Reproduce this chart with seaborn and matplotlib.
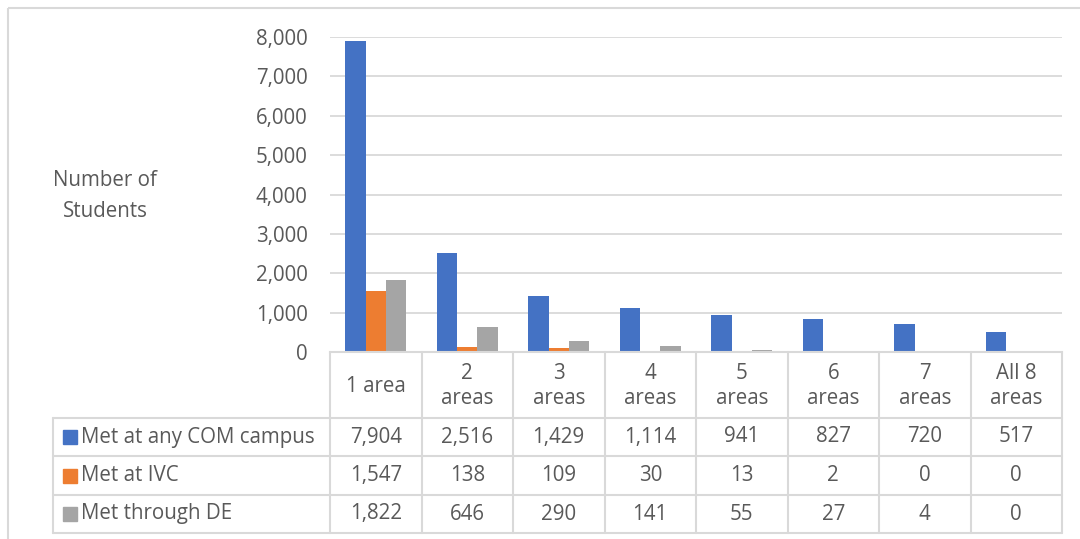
import numpy as np
import pandas as pd
import matplotlib
matplotlib.use("Agg")
import matplotlib.pyplot as plt
import matplotlib.ticker as mticker
from matplotlib.patches import Rectangle
import seaborn as sns

# ------------- data --------------
categories = ["1 area", "2\nareas", "3\nareas", "4\nareas", "5\nareas",
              "6\nareas", "7\nareas", "All 8\nareas"]
series = ["Met at any COM campus", "Met at IVC", "Met through DE"]
any_com = [7904, 2516, 1429, 1114, 941, 827, 720, 517]
at_ivc = [1547, 138, 109, 30, 13, 2, 0, 0]
through_de = [1822, 646, 290, 141, 55, 27, 4, 0]
colors = ["#4472C4", "#ED7D31", "#A5A5A5"]
yticks = [0, 1000, 2000, 3000, 4000, 5000, 6000, 7000, 8000]

df = pd.DataFrame({
    "area": categories * 3,
    "series": [s for s in series for _ in categories],
    "students": any_com + at_ivc + through_de,
})

# ------------- style --------------
sns.set_theme(style="white")
plt.rcParams["font.family"] = ["Open Sans", "DejaVu Sans"]
TXT = "#595959"
GRID = "#D9D9D9"
FS = 14.8

W, H = 1080, 539
fig = plt.figure(figsize=(W / 100, H / 100), dpi=100)

# overlay axes in pixel coords for frame and data table
bg = fig.add_axes([0, 0, 1, 1])
bg.set_xlim(0, W)
bg.set_ylim(H, 0)
bg.axis("off")

# plot area in pixels
x0, x1 = 330, 1062
ytop, ybot = 37, 352
ax = fig.add_axes([x0 / W, (H - ybot) / H, (x1 - x0) / W, (ybot - ytop) / H])

sns.barplot(data=df, x="area", y="students", hue="series", palette=colors,
            width=0.667, order=categories, hue_order=series, ax=ax,
            linewidth=0, saturation=1, legend=False)
ax.set_ylim(0, 8000)
ax.set_xlim(-0.5, len(categories) - 0.5)
ax.set_yticks(yticks)
ax.yaxis.set_major_formatter(mticker.FuncFormatter(lambda v, p: f"{int(v):,}"))
ax.tick_params(axis="y", length=0, pad=16, labelsize=FS, labelcolor=TXT)
ax.set_xticks([])
ax.set_xlabel("")
ax.set_ylabel("")
for y in yticks[1:]:
    ax.axhline(y, color=GRID, lw=1.3, zorder=0)
for s in ["top", "right", "left"]:
    ax.spines[s].set_visible(False)
ax.spines["bottom"].set_color(GRID)
ax.spines["bottom"].set_linewidth(1.5)
ax.patch.set_alpha(0)

# outer chart border
bg.add_patch(Rectangle((8, 8), W + 20, H + 20, fill=False, ec=GRID, lw=1.5))

# y axis title
bg.text(105, 196, "Number of\nStudents", ha="center", va="center",
        fontsize=FS, color=TXT, linespacing=1.6)

# ------------- data table --------------
ncat = len(categories)
colw = (x1 - x0) / ncat
rows_y = [352, 418, 456, 495, 533]
leg_x = 53
lw = 1.5
# vertical lines
for k in range(ncat + 1):
    xx = x0 + k * colw
    bg.plot([xx, xx], [rows_y[0], rows_y[-1]], color=GRID, lw=lw)
bg.plot([leg_x, leg_x], [rows_y[1], rows_y[-1]], color=GRID, lw=lw)
# horizontal lines
for yy in rows_y[1:]:
    bg.plot([leg_x, x1], [yy, yy], color=GRID, lw=lw)

# category header
for k, c in enumerate(categories):
    bg.text(x0 + (k + 0.5) * colw, (rows_y[0] + rows_y[1]) / 2 + 1, c,
            ha="center", va="center", fontsize=FS, color=TXT, linespacing=1.3)

# legend column and values
for r, (name, vals, col) in enumerate(zip(series, [any_com, at_ivc, through_de], colors)):
    yc = (rows_y[r + 1] + rows_y[r + 2]) / 2
    bg.add_patch(Rectangle((63, yc - 7), 14, 14, color=col))
    bg.text(81, yc, name, ha="left", va="center", fontsize=FS, color=TXT)
    for k, v in enumerate(vals):
        bg.text(x0 + (k + 0.5) * colw, yc, f"{v:,}", ha="center", va="center",
                fontsize=FS, color=TXT)

fig.savefig("out.png", dpi=100)
